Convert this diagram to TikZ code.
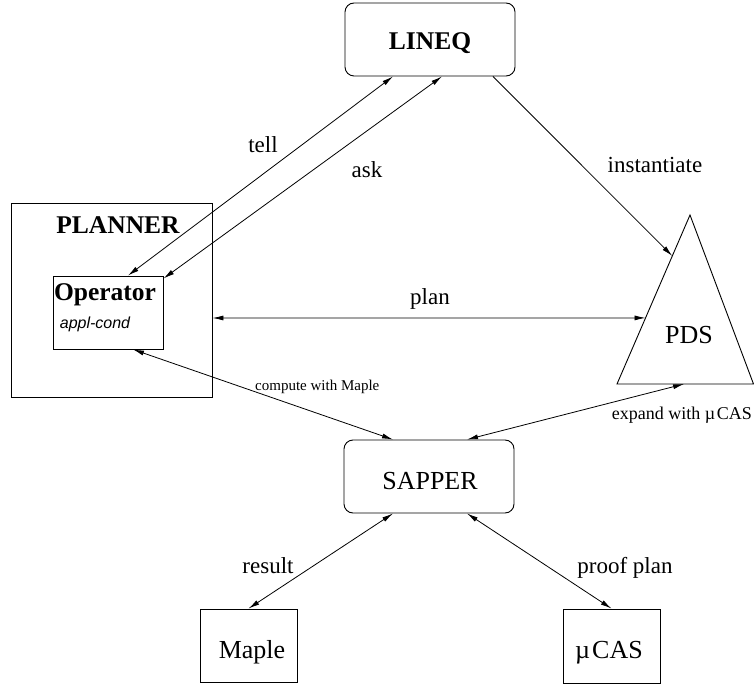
\documentclass[tikz,border=0pt]{standalone}
\usepackage{fontspec}
\setmainfont{Liberation Serif}
\newfontfamily\helv{Liberation Sans}
\usetikzlibrary{arrows.meta,calc}
\tikzset{
  rbox/.style={draw, rounded corners=9pt, line width=0.9pt, inner sep=0pt},
  sbox/.style={draw, line width=0.9pt, inner sep=0pt},
  txt/.style={inner sep=0pt, anchor=base, font=\fontsize{26}{26}\selectfont},
  btxt/.style={inner sep=0pt, anchor=base, font=\bfseries\fontsize{25.5}{26}\selectfont},
  lbl/.style={inner sep=0pt, anchor=base, font=\fontsize{23}{23}\selectfont},
  slbl/.style={inner sep=0pt},
  tip/.tip={Latex[length=11pt,width=5pt]},
  link/.style={line width=0.8pt, tip-tip},
  olink/.style={line width=0.8pt, -tip},
}
\begin{document}
\begin{tikzpicture}[x=1pt,y=-1pt]
\useasboundingbox (0,0) rectangle (754,684);
% boxes
\node[rbox, minimum width=170pt, minimum height=73pt] (lineq) at (430,39.5) {};
\node[btxt] (lineqT) at (430,50) {LINEQ};
\node[sbox, minimum width=201pt, minimum height=194pt] (planner) at (111.5,300) {};
\node[btxt] (plannerT) at (118,234) {PLANNER};
\node[sbox, minimum width=110pt, minimum height=73pt] (op) at (108,312.5) {};
\node[btxt] (opT) at (105,300) {Operator};
\node[inner sep=0pt, anchor=base, font=\helv\itshape\fontsize{16}{16}\selectfont] (opC) at (95,328) {appl-cond};
% PDS triangle
\coordinate (pdsTop) at (690,215);
\coordinate (pdsBL) at (617,384);
\coordinate (pdsBR) at (753.5,384);
\draw[line width=0.9pt] (pdsTop) -- (pdsBL) -- (pdsBR) -- cycle;
\node[txt] (pdsT) at (689,343) {PDS};
\coordinate (pdsInst) at ($(pdsTop)!0.2426!(pdsBL)$);
\coordinate (pdsPlan) at ($(pdsTop)!0.609!(pdsBL)$);
\coordinate (pdsExp) at ($(pdsBL)!0.491!(pdsBR)$);
\node[rbox, minimum width=170pt, minimum height=73pt] (sapper) at (429,476.5) {};
\node[txt] (sapperT) at (430,489) {SAPPER};
\node[sbox, minimum width=97pt, minimum height=73pt] (maple) at (248.5,645.5) {};
\node[txt] (mapleT) at (252,658) {Maple};
\node[sbox, minimum width=97pt, minimum height=74pt] (mucas) at (611.5,646) {};
\node[txt] (mucasT) at (609,658) {µ\kern2pt CAS};
% connectors
\draw[link] ([xshift=-37pt]lineq.south) -- ([xshift=20pt]op.north);
\draw[link] ([xshift=12pt]lineq.south) -- ([yshift=-3pt]op.north east);
\draw[olink] ([xshift=63pt]lineq.south) -- (pdsInst);
\draw[link] ([yshift=-18pt]planner.east) -- (pdsPlan);
\draw[link] ([xshift=25pt]op.south) -- ([xshift=-36pt]sapper.north);
\draw[link] (pdsExp) -- ([xshift=38pt]sapper.north);
\draw[link] ([xshift=-36pt]sapper.south) -- (maple.north);
\draw[link] ([xshift=38pt]sapper.south) -- (mucas.north);
% labels
\node[lbl] (lTell) at (263,153) {tell};
\node[lbl] (lAsk) at (367,178) {ask};
\node[lbl] (lInst) at (655,173) {instantiate};
\node[lbl] (lPlan) at (430,305) {plan};
\node[slbl, anchor=base west, font=\fontsize{15}{15}\selectfont] (lComp) at (255,390) {compute with Maple};
\node[slbl, anchor=base east, font=\fontsize{18}{18}\selectfont] (lExp) at (752,419) {expand with µ\kern1.5pt CAS};
\node[lbl] (lRes) at (268,573) {result};
\node[lbl] (lProof) at (625,573) {proof plan};
\end{tikzpicture}
\end{document}
